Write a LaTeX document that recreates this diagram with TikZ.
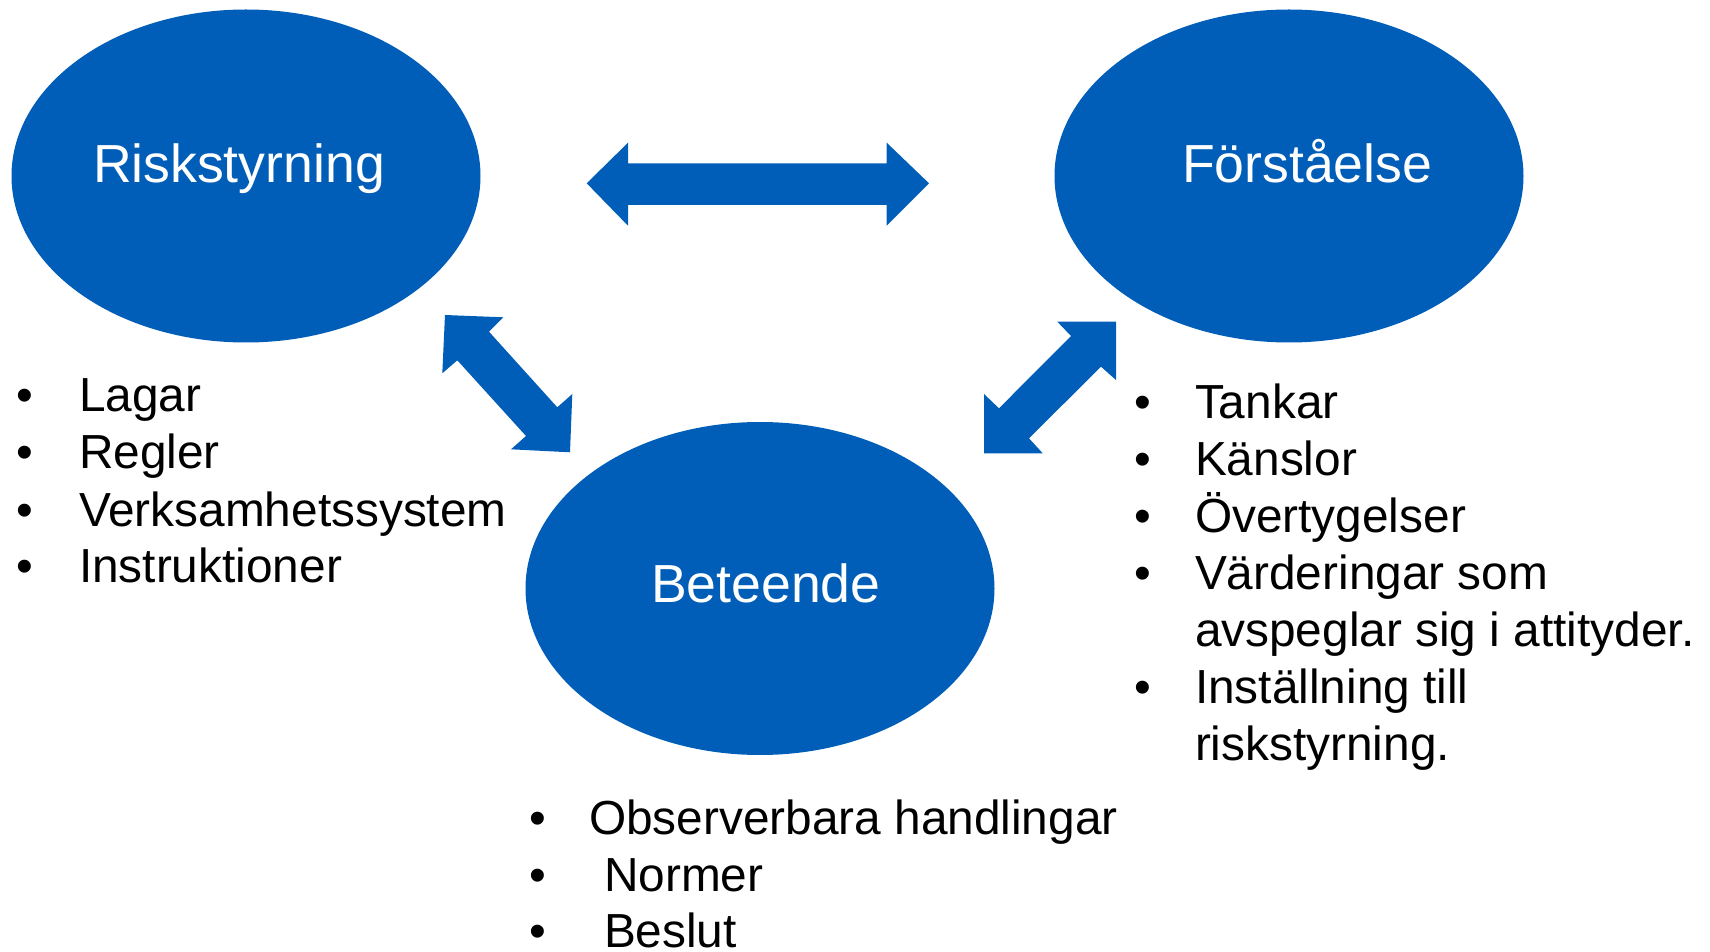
\documentclass[tikz,border=0pt]{standalone}
\usepackage{fontspec}
\setmainfont{Liberation Sans}
\usetikzlibrary{shapes.geometric}
\definecolor{bblue}{RGB}{0,94,184}
\begin{document}
\begin{tikzpicture}[x=0.5pt,y=-0.5pt,
  oval/.style={ellipse,fill=bblue,draw=none,minimum width=234.5pt,minimum height=166.5pt,inner sep=0pt},
  lbl/.style={anchor=base west,inner sep=0pt,outer sep=0pt,text=white,font=\fontsize{26.8pt}{30pt}\selectfont},
  itm/.style={anchor=base west,inner sep=0pt,outer sep=0pt,text=black,font=\fontsize{23.9pt}{28pt}\selectfont},
  bul/.style={anchor=base,inner sep=0pt,outer sep=0pt,text=black,font=\fontsize{23.9pt}{28pt}\selectfont},
  blk/.style={fill=bblue,draw=none}]
\useasboundingbox (0,0) rectangle (1710,952);
% ellipses
\node[oval] (risk) at (246,176) {};
\node[oval] (forst) at (1289,176) {};
\node[oval] (bet) at (760,588.5) {};
\node[lbl] (riskl) at (93,182.7) {Riskstyrning};
\node[lbl] (forstl) at (1182,182.7) {Förståelse};
\node[lbl] (betl) at (651,603) {Beteende};
% block arrows
\path[blk] (586.7,183.3) -- (628,142.7) -- (628,163.3) -- (886.7,163.3) -- (886.7,142.7)
  -- (929,183.3) -- (886.7,225.7) -- (886.7,205) -- (628,205) -- (628,225.7) -- cycle;
\path[blk] (445,315) -- (503.3,317.3) -- (489,331.7) -- (557.3,407.3) -- (572.3,394)
  -- (570,452.3) -- (511,449.3) -- (526,436) -- (457.3,360.3) -- (442.3,373.3) -- cycle;
\path[blk] (1116,321.7) -- (1057.3,321.7) -- (1071,336) -- (999,408.3) -- (984,394)
  -- (984,453.3) -- (1042.7,453.3) -- (1029,438.3) -- (1101,366.7) -- (1116,380) -- cycle;
% left list
\node[bul] (b1) at (25,411.5) {•};
\node[itm] (t1) at (79,411.5) {Lagar};
\node[bul] (b2) at (25,469) {•};
\node[itm] (t2) at (79,469) {Regler};
\node[bul] (b3) at (25,526) {•};
\node[itm] (t3) at (79,526) {Verksamhetssystem};
\node[bul] (b4) at (25,582.7) {•};
\node[itm] (t4) at (79,582.7) {Instruktioner};
% right list
\node[bul] (r1) at (1143,418.5) {•};
\node[itm] (u1) at (1195,418.5) {Tankar};
\node[bul] (r2) at (1143,475.5) {•};
\node[itm] (u2) at (1195,475.5) {Känslor};
\node[bul] (r3) at (1143,532.5) {•};
\node[itm] (u3) at (1195,532.5) {Övertygelser};
\node[bul] (r4) at (1143,589.5) {•};
\node[itm] (u4) at (1195,589.5) {Värderingar som};
\node[itm] (u4b) at (1195,646.5) {avspeglar sig i attityder.};
\node[bul] (r5) at (1143,703.5) {•};
\node[itm] (u5) at (1195,703.5) {Inställning till};
\node[itm] (u5b) at (1195,760.5) {riskstyrning.};
% bottom list
\node[bul] (c1) at (538,834.5) {•};
\node[itm] (v1) at (589,834.5) {Observerbara handlingar};
\node[bul] (c2) at (538,891) {•};
\node[itm] (v2) at (604,891) {Normer};
\node[bul] (c3) at (538,947) {•};
\node[itm] (v3) at (604,947) {Beslut};
\end{tikzpicture}
\end{document}
